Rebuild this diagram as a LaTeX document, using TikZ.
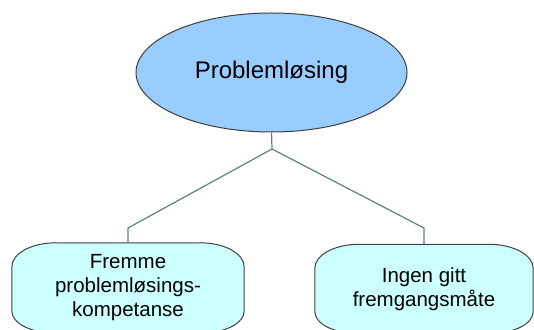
\documentclass[tikz,border=0pt]{standalone}
\usepackage{fontspec}
\setmainfont{Liberation Sans}
\usetikzlibrary{shapes.geometric,backgrounds}

\definecolor{topblue}{HTML}{99CCFF}
\definecolor{subcyan}{HTML}{CCFFFF}
\definecolor{rimgray}{HTML}{404040}
\definecolor{linkgray}{HTML}{5F7F7F}

\begin{document}
\begin{tikzpicture}[x=1pt,y=1pt,
  topic/.style={draw=rimgray,line width=1pt,ellipse,fill=topblue,inner sep=0pt,
    minimum width=271pt,minimum height=119pt,font=\fontsize{24}{28}\selectfont},
  sub/.style={rectangle,inner sep=0pt,align=center,
    font=\fontsize{20.5}{24}\selectfont},
  rim/.style={draw=rimgray,line width=1pt,fill=subcyan},
  link/.style={draw=linkgray,line width=1.2pt}]
  \useasboundingbox (0,0) rectangle (534,329);
  \clip (0,0) rectangle (534,329);
  % top node
  \node[topic] (top) at (271.5,256.5) {Problemløsing};
  % the two sub goals
  \node[sub,minimum width=232pt,minimum height=90pt] (goal) at (128,41)
    {Fremme\\problemløsings-\\kompetanse};
  \node[sub,minimum width=218pt,minimum height=89pt] (free) at (424,40)
    {Ingen gitt\\fremgangsmåte};
  \begin{scope}[on background layer]
    \foreach \b in {goal,free}
      \draw[rim] ([yshift=-24pt]\b.north west)
        arc[start angle=180,end angle=90,x radius=44pt,y radius=24pt]
        -- ([xshift=-44pt]\b.north east)
        arc[start angle=90,end angle=0,x radius=44pt,y radius=24pt]
        -- ([yshift=22pt]\b.south east)
        arc[start angle=0,end angle=-90,x radius=44pt,y radius=22pt]
        -- ([xshift=44pt]\b.south west)
        arc[start angle=270,end angle=180,x radius=44pt,y radius=22pt]
        -- cycle;
  \end{scope}
  % connectors
  \coordinate (split) at (272,180);
  \coordinate (kneeL) at (128,101);
  \coordinate (kneeR) at (424,101);
  \draw[link] (top.south) -- (split);
  \draw[link] (split) -- (kneeL) -- (goal.north);
  \draw[link] (split) -- (kneeR) -- (free.north);
\end{tikzpicture}
\end{document}
